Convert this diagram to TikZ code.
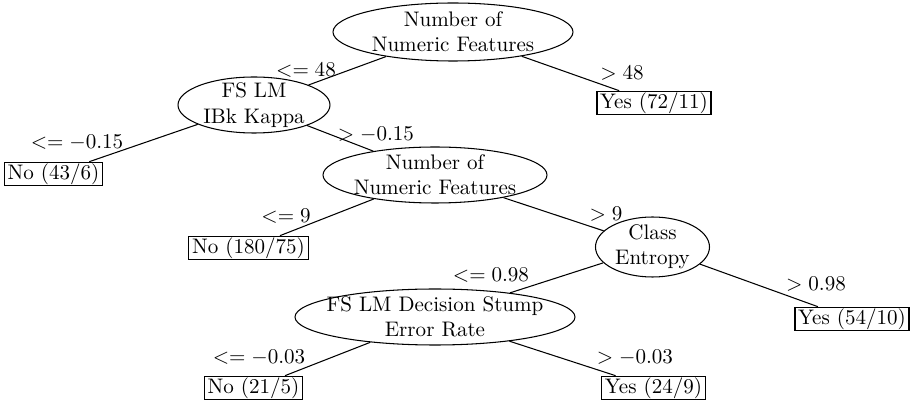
\documentclass[tikz,border=0pt]{standalone}
\usetikzlibrary{shapes.geometric}
\begin{document}
\begin{tikzpicture}[x=0.475pt,y=-0.475pt,
  ell/.style 2 args={ellipse, draw, line width=0.5pt, minimum width=#1*0.475pt, minimum height=#2*0.475pt, inner sep=0pt},
  leaf/.style={draw, line width=0.5pt, inner xsep=1.5pt, inner ysep=0.6pt},
  etxt/.style={align=center},
  lab/.style={inner sep=0pt},
  conn/.style={line width=0.5pt}]
\useasboundingbox (0,0) rectangle (912,403);
% internal nodes
\node[ell={240}{58}] (root) at (453,32) {};
\node[etxt] (roott) at (root) {Number of\\Numeric Features};
\node[ell={152}{56}] (fs1) at (254,105) {};
\node[etxt] (fs1t) at (fs1) {FS LM\\IBk Kappa};
\node[ell={224}{56}] (num2) at (435,175) {};
\node[etxt] (num2t) at (num2) {Number of\\Numeric Features};
\node[ell={114}{60}] (ce) at (652.5,247) {};
\node[etxt] (cet) at (ce) {Class\\Entropy};
\node[ell={280}{56}] (fs2) at (435,317) {};
\node[etxt] (fs2t) at (fs2) {FS LM Decision Stump\\Error Rate};
% leaves
\node[leaf] (yes1) at (654,103) {Yes (72/11)};
\node[leaf] (no1) at (53.5,174) {No (43/6)};
\node[leaf] (no2) at (248.5,248) {No (180/75)};
\node[leaf] (yes2) at (852,319) {Yes (54/10)};
\node[leaf] (no3) at (253.5,388) {No (21/5)};
\node[leaf] (yes3) at (653.5,388) {Yes (24/9)};
% connectors
\draw[conn] (root) -- (fs1);
\draw[conn] (root) -- (yes1);
\draw[conn] (fs1) -- (no1);
\draw[conn] (fs1) -- (num2);
\draw[conn] (num2) -- (no2);
\draw[conn] (num2) -- (ce);
\draw[conn] (ce) -- (fs2);
\draw[conn] (ce) -- (yes2);
\draw[conn] (fs2) -- (no3);
\draw[conn] (fs2) -- (yes3);
% labels
\node[lab] (l1) at (306,70) {$<= 48$};
\node[lab] (l2) at (622,73) {$> 48$};
\node[lab] (l3) at (77,143) {$<= -0.15$};
\node[lab] (l4) at (376,135) {$> -0.15$};
\node[lab] (l5) at (286,216) {$<= 9$};
\node[lab] (l6) at (606,214) {$> 9$};
\node[lab] (l7) at (491,275) {$<= 0.98$};
\node[lab] (l8) at (816,284) {$> 0.98$};
\node[lab] (l9) at (259,358) {$<= -0.03$};
\node[lab] (l10) at (635,358) {$> -0.03$};
\end{tikzpicture}
\end{document}
